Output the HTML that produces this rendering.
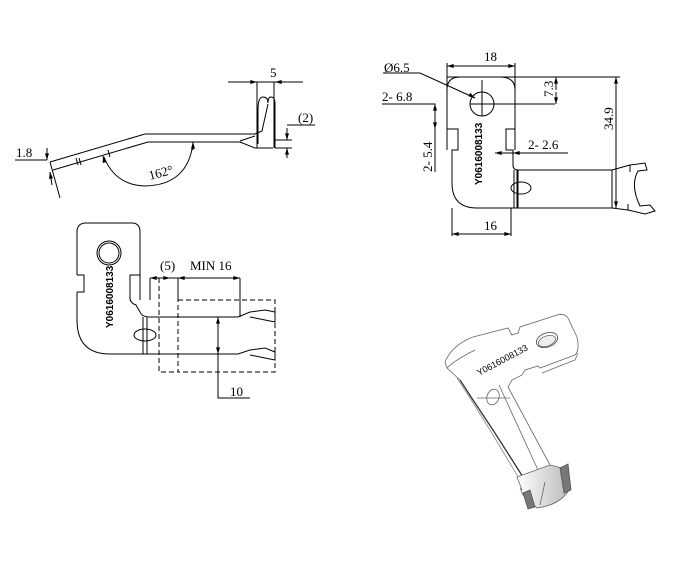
<!DOCTYPE html>
<html><head><meta charset="utf-8"><style>
html,body{margin:0;padding:0;background:#fff;width:675px;height:568px;overflow:hidden}
text{font-family:"Liberation Serif",serif;font-size:13px;fill:#000}
</style></head><body>
<svg width="675" height="568" viewBox="0 0 675 568" xmlns="http://www.w3.org/2000/svg">
<defs>
<marker id="a" viewBox="0 0 10 6" refX="10" refY="3" markerWidth="7" markerHeight="4" orient="auto-start-reverse"><path d="M0,0L10,3L0,6z" fill="#000"/></marker>
<linearGradient id="g2" x1="0" y1="0" x2="1" y2="0"><stop offset="0" stop-color="#fff"/><stop offset="1" stop-color="#bbb"/></linearGradient>
</defs>
<g fill="none" stroke="#000" stroke-width="1">
<!-- TOP LEFT -->
<path d="M228,82H303"/><path d="M240,82H257" marker-end="url(#a)"/><path d="M292,82H275" marker-end="url(#a)"/>
<path d="M257,82V148M274,82V148"/>
<path d="M258,144 L258,110 Q258,97 263,97 Q268,97 268,103 Q268,97 271,97 Q275,97 275,104 V148"/>
<path d="M268,104 L262,131 L255,134 H145 L50,162"/>
<path d="M53,170 L148,142 H240 L255,148 H273"/>
<path d="M240,141 L255,136"/>
<path d="M108,150L110,157M76,158L78,165M79,158L81,165"/>
<path d="M15,160H47"/><path d="M47,148V160" marker-end="url(#a)"/><path d="M52,185L50,172" marker-end="url(#a)"/><path d="M50,162L60,198"/>
<path d="M104,157 Q115,185 145,186 Q188,185 193,143" /><path d="M193,150V142" marker-end="url(#a)"/><path d="M104,160L103,156" marker-end="url(#a)"/>
<path d="M287,125H315M287,128V140M287,148V158M275,140H292M275,148H292"/>
<path d="M287,132V140" marker-end="url(#a)"/><path d="M287,155V148" marker-end="url(#a)"/>
<!-- TOP RIGHT -->
<path d="M447,63V150M515,63V150M447,66H515"/><path d="M460,66H447" marker-end="url(#a)"/><path d="M502,66H515" marker-end="url(#a)"/>
<path d="M447,129 V90 Q447,77 460,77 M458,77 H500 Q515,77 515,90 V129"/>
<path d="M447,129H458V150H452V183 Q452,208 477,208 H612 M515,129H506V150H513 V165 Q513,170 518,170 H612"/>
<path d="M612,170V208M518,170V208"/>
<circle cx="482" cy="104" r="12"/><path d="M482,80V116M470,104H555"/>
<path d="M447,77H620"/><path d="M383,73H420L475,98"/><path d="M470,95L475,98" marker-end="url(#a)"/>
<path d="M382,104H435V135M435,104V155M435,150V172"/>
<path d="M435,118V104" marker-end="url(#a)"/><path d="M435,120V129" marker-end="url(#a)"/>
<path d="M556,90V77" marker-end="url(#a)"/><path d="M556,92V104" marker-end="url(#a)"/>
<path d="M616,90V77" marker-end="url(#a)"/><path d="M616,195V208" marker-end="url(#a)"/><path d="M616,77V208"/>
<path d="M495,153H568"/><path d="M495,153H506" marker-start="url(#a)"/><path d="M525,153H513" marker-end="url(#a)"/>
<path d="M452,208V236M511,208V236M452,234H511"/><path d="M465,234H452" marker-end="url(#a)"/><path d="M498,234H511" marker-end="url(#a)"/>
<ellipse cx="521" cy="188" rx="10" ry="6"/><path d="M514,170V208M517,170V208"/>
<path d="M612,170 L630,165 L645,163 L647,170 L638,171 Q630,185 640,206 L650,205 L655,211 L645,214 L628,210 L612,208"/>
<path d="M630,165V172M628,210V204"/>
<!-- BOTTOM LEFT -->
<path d="M77,275 V232 Q77,223 86,223 H132 Q140,223 140,232 V275 H130 V298 Q130,303 136,305 L140,312 Q142,317 150,317 H238 M77,292 H84 V275 H77 M77,292 V320 Q77,354 110,354 H238"/>
<path d="M140,275V300M143,317V354M147,317V354"/>
<circle cx="109" cy="253" r="12"/><circle cx="109" cy="253" r="10"/>
<ellipse cx="145" cy="335" rx="11" ry="6"/>
<path d="M238,317 L250,312 L265,310 L275,312 V322 L265,320 L250,317 M238,354 L250,350 L265,348 L275,352 V360 L265,358 L250,355"/>
<path d="M150,278H240M150,278V300M240,278V317M178,278V300"/>
<path d="M165,278H150" marker-end="url(#a)"/><path d="M170,278H159" marker-start="url(#a)"/><path d="M185,278H178" marker-end="url(#a)"/><path d="M228,278H240" marker-end="url(#a)"/>
<path d="M218,317V398H250"/><path d="M218,330V317" marker-end="url(#a)"/><path d="M218,341V354" marker-end="url(#a)"/>
<g stroke-dasharray="5,3"><path d="M159,278V372H178M178,300H275V372H178V300"/></g>
</g>
<!-- 3D -->
<g fill="none" stroke="#666" stroke-width="0.8">
<path d="M445,362 Q452,345 473,337 L508,328 L512,335 L518,333 L520,327 L557,315 Q565,313 568,318 L577,337 Q580,350 575,355 L540,368 L538,366 L525,370 L522,375 L512,380 L508,387"/>
<path d="M447,368 Q455,360 475,350 M578,353 L575,360 L542,373"/>
<path d="M445,362 L447,368 L460,380" />
<path d="M460,380 L473,400 L493,430 L523,477 L528,490 L530,507" stroke="#333" stroke-width="1.3"/>
<path d="M457,378 L470,398 L490,430 L520,480" stroke="#888"/>
<path d="M508,387 L550,465 M499,385 L538,470"/>
<ellipse cx="547" cy="340" rx="11" ry="7" transform="rotate(-20 547 340)" stroke="#444"/>
<ellipse cx="547" cy="341" rx="9" ry="5" transform="rotate(-20 547 341)" fill="#eee"/>
<ellipse cx="493" cy="397" rx="6" ry="8" transform="rotate(20 493 397)"/>
<path d="M477,398 H510"/>
<path d="M517,477 L550,465 L562,468 L568,465 L569,490 Q560,505 537,508 L523,495 L520,488" fill="url(#g2)"/>
<path d="M517,477 L522,490 M540,505 L545,482"/>
<path d="M523,493 L530,490 L535,507 L528,509 Z M560,468 L568,464 L571,490 L564,493 Z" fill="#777" stroke="#555"/>
</g>
<text x="270" y="77">5</text>
<text x="298" y="122">(2)</text>
<text x="16" y="157">1.8</text>
<text x="150" y="180" transform="rotate(-15 150 180)">162°</text>
<text x="484" y="61">18</text>
<text x="384" y="72">Ø6.5</text>
<text x="382" y="101">2- 6.8</text>
<text x="528" y="149">2- 2.6</text>
<text x="484" y="230">16</text>
<text transform="translate(553,97) rotate(-90)">7.3</text>
<text transform="translate(613,130) rotate(-90)">34.9</text>
<text transform="translate(432,172) rotate(-90)">2- 5.4</text>
<text x="160" y="270">(5)</text>
<text x="190" y="270">MIN 16</text>
<text x="230" y="396">10</text>
<text transform="translate(482,185) rotate(-90)" style="font-family:'Liberation Sans',sans-serif;font-size:10px;font-weight:bold">Y0616008133</text>
<text transform="translate(113,328) rotate(-90)" style="font-family:'Liberation Sans',sans-serif;font-size:10px;font-weight:bold">Y0616008133</text>
<text transform="translate(479,376) rotate(-28)" style="font-family:'Liberation Sans',sans-serif;font-size:9px">Y0616008133</text>
</svg>
</body></html>
